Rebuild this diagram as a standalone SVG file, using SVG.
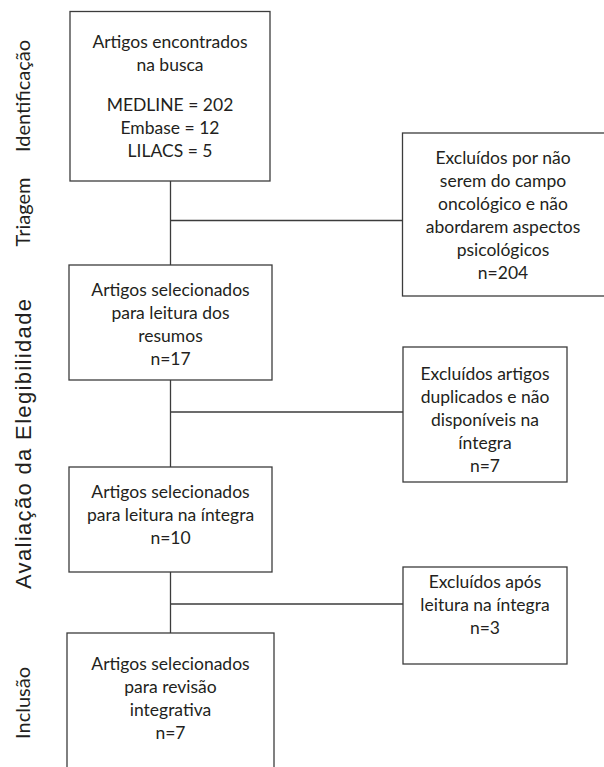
<svg xmlns="http://www.w3.org/2000/svg" width="604" height="767" viewBox="0 0 604 767">
<style>
.box{fill:#fff;stroke:#3c3c3c;stroke-width:1.3}
.ln{fill:none;stroke:#3c3c3c;stroke-width:1.3}
.t{font-family:Lato,"Open Sans",sans-serif;font-size:17.5px;fill:#231f20;text-anchor:middle}
.s{font-family:Lato,"Open Sans",sans-serif;font-size:20px;fill:#231f20;text-anchor:middle}
.sa{font-family:"Liberation Sans",Arial,sans-serif;font-size:22px;fill:#231f20;text-anchor:middle}
</style>
<rect width="604" height="767" fill="#fff"/>
<g id="connectors">
<path class="ln" d="M170.5 181V265M170.5 220.5H402.5M170.5 380V467M170.5 412H403M170.5 572V633M170.5 604H403"/>
</g>
<g id="labels">
<text class="s" transform="translate(30,96) rotate(-90)">Identificação</text>
<text class="s" transform="translate(30,212) rotate(-90)">Triagem</text>
<text class="sa" transform="translate(31,444) rotate(-90)" textLength="290" lengthAdjust="spacing">Avaliação da Elegibilidade</text>
<text class="s" transform="translate(30,703) rotate(-90)">Inclusão</text>
</g>
<g id="n1">
<rect class="box" x="70" y="11.5" width="200" height="169.5"/>
<text class="t" x="170" y="48">Artigos encontrados</text>
<text class="t" x="170" y="71">na busca</text>
<text class="t" x="170" y="111">MEDLINE = 202</text>
<text class="t" x="170" y="134">Embase = 12</text>
<text class="t" x="170" y="157">LILACS = 5</text>
</g>
<g id="n2">
<rect class="box" x="402.5" y="133" width="204" height="163"/>
<text class="t" x="503" y="164">Excluídos por não</text>
<text class="t" x="503" y="187">serem do campo</text>
<text class="t" x="503" y="210">oncológico e não</text>
<text class="t" x="503" y="233">abordarem aspectos</text>
<text class="t" x="503" y="256">psicológicos</text>
<text class="t" x="503" y="279">n=204</text>
</g>
<g id="n3">
<rect class="box" x="69" y="265" width="203" height="115"/>
<text class="t" x="170.5" y="296">Artigos selecionados</text>
<text class="t" x="170.5" y="319">para leitura dos</text>
<text class="t" x="170.5" y="342">resumos</text>
<text class="t" x="170.5" y="365">n=17</text>
</g>
<g id="n4">
<rect class="box" x="403" y="347" width="164" height="135"/>
<text class="t" x="485" y="380">Excluídos artigos</text>
<text class="t" x="485" y="403">duplicados e não</text>
<text class="t" x="485" y="426">disponíveis na</text>
<text class="t" x="485" y="449">íntegra</text>
<text class="t" x="485" y="472">n=7</text>
</g>
<g id="n5">
<rect class="box" x="69" y="467" width="203" height="105"/>
<text class="t" x="170.5" y="498">Artigos selecionados</text>
<text class="t" x="170.5" y="521">para leitura na íntegra</text>
<text class="t" x="170.5" y="544">n=10</text>
</g>
<g id="n6">
<rect class="box" x="403" y="567" width="164" height="97"/>
<text class="t" x="485" y="588">Excluídos após</text>
<text class="t" x="485" y="611">leitura na íntegra</text>
<text class="t" x="485" y="634">n=3</text>
</g>
<g id="n7">
<rect class="box" x="67" y="633" width="207" height="140"/>
<text class="t" x="170.5" y="670">Artigos selecionados</text>
<text class="t" x="170.5" y="693">para revisão</text>
<text class="t" x="170.5" y="716">integrativa</text>
<text class="t" x="170.5" y="739">n=7</text>
</g>
</svg>
